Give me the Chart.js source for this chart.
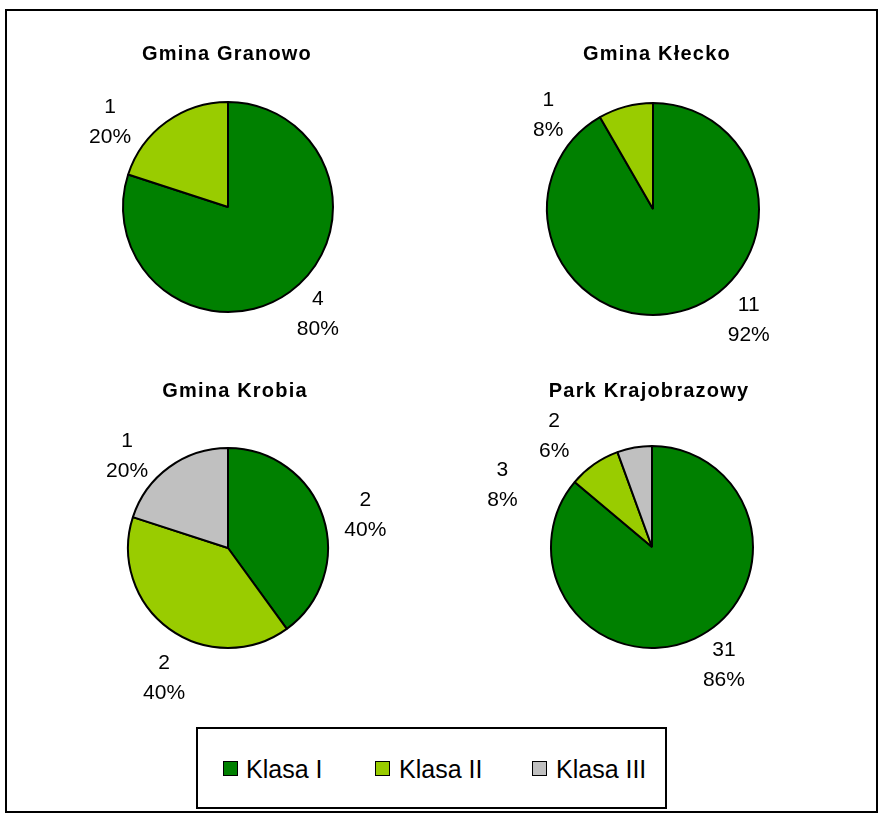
<!DOCTYPE html>
<html>
<head>
<meta charset="utf-8">
<script src="https://cdn.jsdelivr.net/npm/chart.js@4/dist/chart.umd.min.js"></script>
<style>
  html, body { margin: 0; padding: 0; background: #fff; }
  #page { position: relative; width: 878px; height: 814px; overflow: hidden; font-family: "Liberation Sans", Arial, sans-serif; }
  #page canvas { position: absolute; left: 0; top: 0; }
  #frame { position: absolute; left: 5px; top: 9px; width: 873px; height: 804px; box-sizing: border-box; border: 2px solid #000; }
  #legend { position: absolute; left: 196px; top: 727px; width: 471px; height: 82px; box-sizing: border-box; border: 2px solid #000; background: #fff; }
  .mark { position: absolute; top: 32px; width: 15px; height: 15px; box-sizing: border-box; border: 1.5px solid #000; }
  .item { position: absolute; top: 28px; font-size: 25px; line-height: 25px; color: #000; white-space: nowrap; }
</style>
</head>
<body>
<div id="page">
  <div id="frame"></div>
  <canvas id="c0" width="878" height="814"></canvas>
  <canvas id="c1" width="878" height="814"></canvas>
  <canvas id="c2" width="878" height="814"></canvas>
  <canvas id="c3" width="878" height="814"></canvas>
  <div id="legend"></div>
</div>
<script>
// Classes of monuments and their counts per area
const categories = ['Klasa I', 'Klasa II', 'Klasa III'];
const granowo = [4, 1, 0];
const klecko  = [11, 1, 0];
const krobia  = [2, 2, 1];
const park    = [31, 3, 2];
const titles  = ['Gmina Granowo', 'Gmina Kłecko', 'Gmina Krobia', 'Park Krajobrazowy'];

const sliceColors = ['#008000', '#99CC00', '#C0C0C0'];

// Placement of each pie on the page: centre, radius, title baseline,
// and small nudges for the outside value labels (one per class).
const placement = [
  { data: granowo, cx: 228, cy: 207, r: 105, tx: 227, ty: 60,
    nudge: [[7, -7], [-35, 29], [0, 0]] },
  { data: klecko,  cx: 653, cy: 209, r: 106, tx: 657, ty: 60,
    nudge: [[59, -26], [-68, 43], [0, 0]] },
  { data: krobia,  cx: 228, cy: 548, r: 100, tx: 235, ty: 397,
    nudge: [[8, 9], [16, 20], [-21, 18]] },
  { data: park,    cx: 652, cy: 547, r: 101, tx: 649, ty: 397,
    nudge: [[14, -6], [-71, 50], [-74, 24]] }
];

const W = 878, H = 814;
const labelFont = '21px "Liberation Sans", Arial, sans-serif';
const titleFont = 'bold 20px "Liberation Sans", Arial, sans-serif';

// Draws the chart title and the "count / percent" labels outside each slice
const pieLabels = {
  id: 'pieLabels',
  afterDatasetsDraw(chart, args, opts) {
    const ctx = chart.ctx;
    const p = opts.place;
    const values = chart.data.datasets[0].data;
    const total = values.reduce((a, b) => a + b, 0);
    const meta = chart.getDatasetMeta(0);
    ctx.save();
    ctx.fillStyle = '#000';
    ctx.textAlign = 'center';

    ctx.font = titleFont;
    if ('letterSpacing' in ctx) ctx.letterSpacing = '1.2px';
    ctx.textBaseline = 'alphabetic';
    ctx.fillText(opts.title, p.tx, p.ty);
    if ('letterSpacing' in ctx) ctx.letterSpacing = '0px';

    ctx.font = labelFont;
    ctx.textBaseline = 'middle';
    meta.data.forEach((arc, i) => {
      const v = values[i];
      if (!v) return;
      const a = arc.getProps(['x', 'y', 'startAngle', 'endAngle', 'outerRadius'], true);
      const mid = (a.startAngle + a.endAngle) / 2;
      const dist = a.outerRadius + 36;
      const lx = a.x + Math.cos(mid) * dist + p.nudge[i][0];
      const ly = a.y + Math.sin(mid) * dist + p.nudge[i][1];
      const pct = Math.round(v / total * 100) + '%';
      ctx.fillText(String(v), lx, ly - 15);
      ctx.fillText(pct, lx, ly + 15);
    });
    ctx.restore();
  }
};

placement.forEach((p, k) => {
  const side = 2 * p.r + 2;   // doughnut radius = (side - borderWidth) / 2
  const left = p.cx - side / 2;
  const top = p.cy - side / 2;
  new Chart(document.getElementById('c' + k), {
    type: 'pie',
    data: {
      labels: categories,
      datasets: [{
        data: p.data,
        backgroundColor: sliceColors,
        borderColor: '#000',
        borderWidth: 2
      }]
    },
    options: {
      responsive: false,
      devicePixelRatio: 1,
      animation: false,
      events: [],
      layout: {
        padding: { left: left, top: top, right: W - left - side, bottom: H - top - side }
      },
      plugins: {
        legend: { display: false },
        tooltip: { enabled: false },
        title: { display: false },
        pieLabels: { place: p, title: titles[k] }
      }
    },
    plugins: [pieLabels]
  });
});

// Shared legend for the four pies
const legend = document.getElementById('legend');
const legendX = [[25, 48], [177, 201], [334, 358]];
categories.forEach((name, i) => {
  const m = document.createElement('div');
  m.className = 'mark';
  m.style.left = legendX[i][0] + 'px';
  m.style.background = sliceColors[i];
  legend.appendChild(m);
  const t = document.createElement('div');
  t.className = 'item';
  t.style.left = legendX[i][1] + 'px';
  t.textContent = name;
  legend.appendChild(t);
});
</script>
</body>
</html>
